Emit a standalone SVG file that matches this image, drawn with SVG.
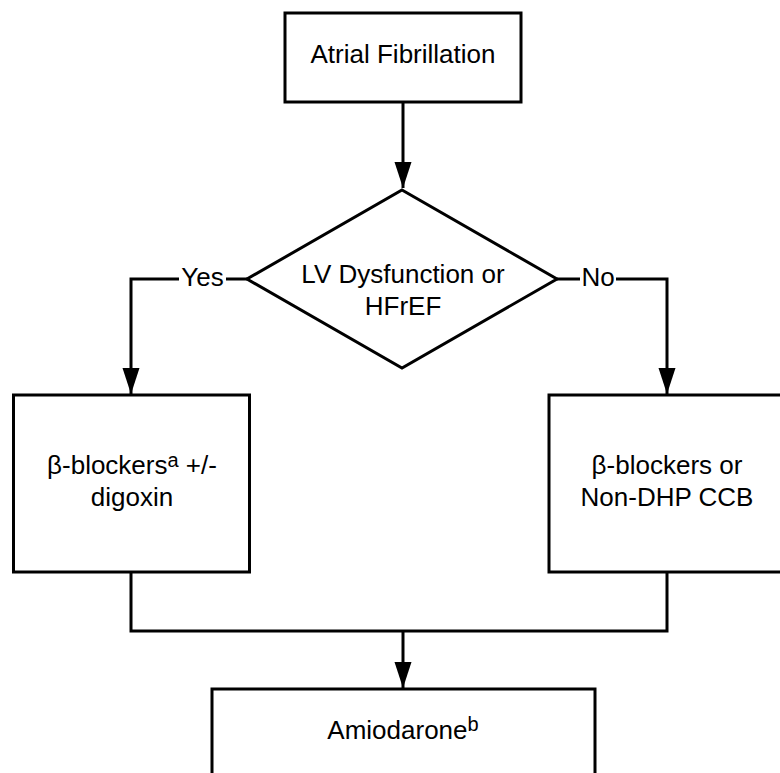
<svg xmlns="http://www.w3.org/2000/svg" width="780" height="773" viewBox="0 0 780 773">
  <defs>
    <marker id="arrow" markerUnits="userSpaceOnUse" markerWidth="26" markerHeight="18" viewBox="0 0 26 18" refX="26" refY="9" orient="auto">
      <path d="M0,0.5 L26,9 L0,17.5 z" fill="#000"/>
    </marker>
    <style>
      .box { fill: #fff; stroke: #000; stroke-width: 3; }
      .edge { fill: none; stroke: #000; stroke-width: 3; }
      .lbl { font-family: "Liberation Sans", Arial, sans-serif; font-size: 26px; fill: #000; text-anchor: middle; }
      .sup { font-size: 20px; }
      .bg { fill: #fff; }
    </style>
  </defs>
  <rect width="780" height="773" fill="#fff"/>

  <!-- connectors -->
  <g id="connectors">
    <path class="edge" d="M403,102 V188" marker-end="url(#arrow)"/>
    <path class="edge" d="M247,279 H131 V394" marker-end="url(#arrow)"/>
    <path class="edge" d="M557,279 H667 V394" marker-end="url(#arrow)"/>
    <path class="edge" d="M131,572 V631 H667 V572"/>
    <path class="edge" d="M403,631 V688" marker-end="url(#arrow)"/>
    <rect class="bg" x="179" y="262" width="47" height="30"/>
    <text class="lbl" x="202.5" y="286">Yes</text>
    <rect class="bg" x="580" y="262" width="36" height="30"/>
    <text class="lbl" x="598" y="286">No</text>
  </g>

  <g id="atrial-fibrillation">
    <rect class="box" x="285" y="13" width="236" height="89"/>
    <text class="lbl" x="403" y="63">Atrial Fibrillation</text>
  </g>

  <g id="lv-dysfunction">
    <path class="box" d="M402,190 L557,279 L402,368 L247,279 z"/>
    <text class="lbl" x="403" y="283">LV Dysfunction or</text>
    <text class="lbl" x="403" y="315">HFrEF</text>
  </g>

  <g id="beta-blockers-digoxin">
    <rect class="box" x="13.5" y="395" width="236" height="177"/>
    <text class="lbl" x="132" y="474">β-blockers<tspan class="sup" dy="-7">a</tspan><tspan dy="7"> +/-</tspan></text>
    <text class="lbl" x="132" y="506">digoxin</text>
  </g>

  <g id="beta-blockers-ccb">
    <rect class="box" x="549" y="395" width="236" height="177"/>
    <text class="lbl" x="667" y="474">β-blockers or</text>
    <text class="lbl" x="667" y="506">Non-DHP CCB</text>
  </g>

  <g id="amiodarone">
    <rect class="box" x="212" y="689" width="383" height="110"/>
    <text class="lbl" x="403" y="739">Amiodarone<tspan class="sup" dy="-8">b</tspan></text>
  </g>
</svg>
